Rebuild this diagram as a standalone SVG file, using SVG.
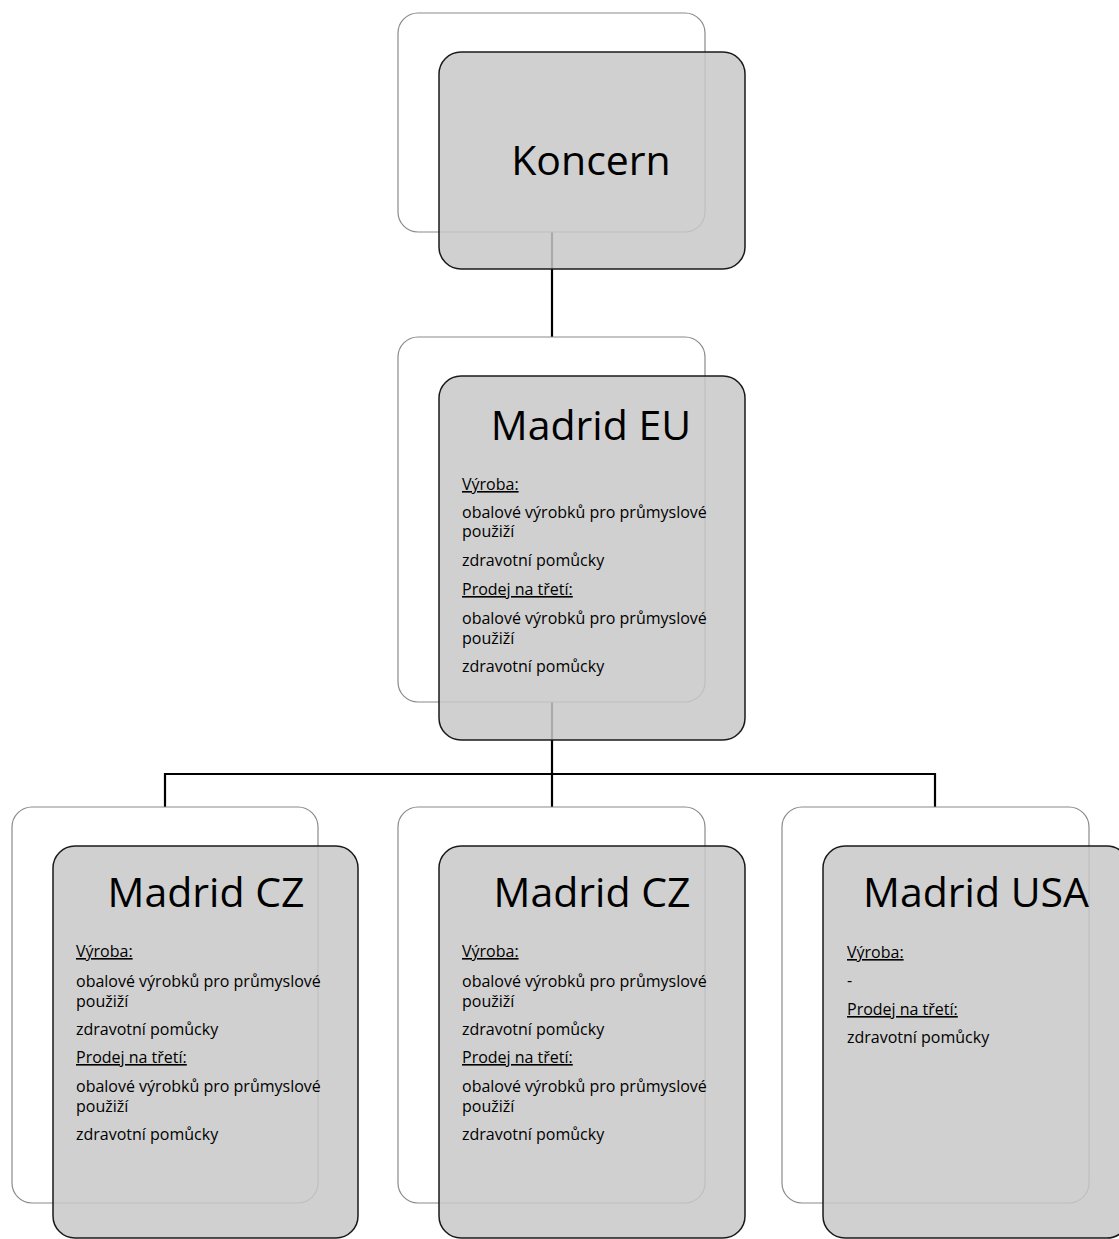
<svg xmlns="http://www.w3.org/2000/svg" width="1119" height="1239" viewBox="0 0 1119 1239">
<style>
.back{fill:#ffffff;stroke:#8a8a8a;stroke-width:1.2}
.front{fill:#c8c8c8;fill-opacity:0.85;stroke:#1a1a1a;stroke-width:1.5}
.conn{stroke:#000;stroke-width:2.2;fill:none}
.title{font-family:"Open Sans","Liberation Sans",sans-serif;font-size:41px;fill:#000;text-anchor:middle}
.body{font-family:"Open Sans","Liberation Sans",sans-serif;font-size:16px;fill:#000}
.u{text-decoration:underline}
</style>
<rect width="1119" height="1239" fill="#ffffff"/>
<g id="connectors">
<line class="conn" x1="552" y1="232" x2="552" y2="378"/>
<line class="conn" x1="552" y1="702" x2="552" y2="807"/>
<polyline class="conn" points="165,807 165,774 935,774 935,807"/>
</g>
<g id="node-koncern">
<rect class="back" x="398" y="13" width="307" height="219" rx="20"/>
<rect class="front" x="439" y="52" width="306" height="217" rx="22"/>
<text class="title" x="591" y="175">Koncern</text>
</g>
<g id="node-madrid-eu">
<rect class="back" x="398" y="337" width="307" height="365" rx="20"/>
<rect class="front" x="439" y="376" width="306" height="364" rx="22"/>
<text class="title" x="591" y="440">Madrid EU</text>
<text class="body u" x="462" y="490">Výroba:</text>
<text class="body" x="462" y="518">obalové výrobků pro průmyslové<tspan x="462" y="537">použiží</tspan></text>
<text class="body" x="462" y="566">zdravotní pomůcky</text>
<text class="body u" x="462" y="595">Prodej na třetí:</text>
<text class="body" x="462" y="624">obalové výrobků pro průmyslové<tspan x="462" y="644">použiží</tspan></text>
<text class="body" x="462" y="672">zdravotní pomůcky</text>
</g>
<g id="node-madrid-cz-1">
<rect class="back" x="12" y="807" width="306" height="396" rx="20"/>
<rect class="front" x="53" y="846" width="305" height="392" rx="22"/>
<text class="title" x="206" y="907">Madrid CZ</text>
<text class="body u" x="76" y="957">Výroba:</text>
<text class="body" x="76" y="987">obalové výrobků pro průmyslové<tspan x="76" y="1007">použiží</tspan></text>
<text class="body" x="76" y="1035">zdravotní pomůcky</text>
<text class="body u" x="76" y="1063">Prodej na třetí:</text>
<text class="body" x="76" y="1092">obalové výrobků pro průmyslové<tspan x="76" y="1112">použiží</tspan></text>
<text class="body" x="76" y="1140">zdravotní pomůcky</text>
</g>
<g id="node-madrid-cz-2">
<rect class="back" x="398" y="807" width="307" height="396" rx="20"/>
<rect class="front" x="439" y="846" width="306" height="392" rx="22"/>
<text class="title" x="592" y="907">Madrid CZ</text>
<text class="body u" x="462" y="957">Výroba:</text>
<text class="body" x="462" y="987">obalové výrobků pro průmyslové<tspan x="462" y="1007">použiží</tspan></text>
<text class="body" x="462" y="1035">zdravotní pomůcky</text>
<text class="body u" x="462" y="1063">Prodej na třetí:</text>
<text class="body" x="462" y="1092">obalové výrobků pro průmyslové<tspan x="462" y="1112">použiží</tspan></text>
<text class="body" x="462" y="1140">zdravotní pomůcky</text>
</g>
<g id="node-madrid-usa">
<rect class="back" x="782" y="807" width="307" height="396" rx="20"/>
<rect class="front" x="823" y="846" width="306" height="392" rx="22"/>
<text class="title" x="976" y="907">Madrid USA</text>
<text class="body u" x="847" y="958">Výroba:</text>
<text class="body" x="847" y="986">-</text>
<text class="body u" x="847" y="1015">Prodej na třetí:</text>
<text class="body" x="847" y="1043">zdravotní pomůcky</text>
</g>
</svg>
